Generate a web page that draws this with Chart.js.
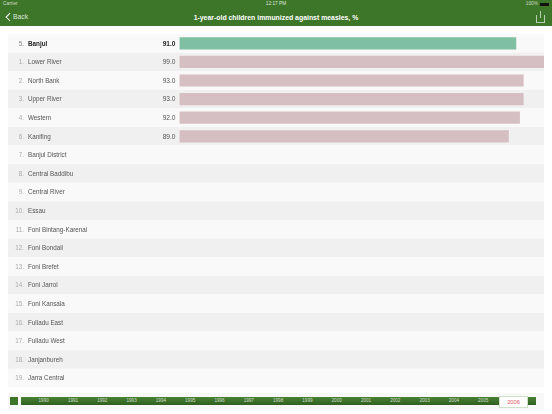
<!DOCTYPE html>
<html>
<head>
<meta charset="utf-8">
<script src="https://cdn.jsdelivr.net/npm/chart.js@4"></script>
<style>
    html, body { margin: 0; padding: 0; background: #fff; }
    body { width: 552px; height: 414px; position: relative; overflow: hidden; font-family: "Liberation Sans", sans-serif; }
    #chart { position: absolute; left: 0; top: 0; }
    #header { position: absolute; left: 0; top: 0; width: 552px; height: 25.5px; background: #3d7529; color: #fff; }
    #header span { position: absolute; white-space: nowrap; }
    #carrier { left: 3px; top: 1px; font-size: 4.8px; color: #cfdcc8; }
    #clock { left: 0; width: 552px; text-align: center; top: 1px; font-size: 4.8px; color: #dfe8da; }
    #battery { right: 14px; top: 1px; font-size: 4.8px; color: #cfdcc8; }
    #battery-bar { position: absolute; left: 540px; top: 2.5px; width: 9px; height: 3px; background: #111; }
    #back { left: 13px; top: 13.4px; font-size: 6.8px; color: #dfe8da; }
    #chevron { position: absolute; left: 6.5px; top: 14.3px; width: 4.5px; height: 4.5px; border-left: 1.2px solid #fff; border-bottom: 1.2px solid #fff; transform: rotate(45deg); }
    #title { left: 0; width: 552px; text-align: center; top: 13.6px; font-size: 6.9px; font-weight: bold; }
    #share { position: absolute; left: 536px; top: 15px; width: 7px; height: 6.5px; border: 0.7px solid #b9cdb0; border-top: none; }
    #share-stem { position: absolute; left: 539.6px; top: 11px; width: 0.7px; height: 7px; background: #b9cdb0; }
    #timeline { position: absolute; left: 8px; top: 393px; width: 536px; height: 17px; background: #f9f8f8; }
    #play { position: absolute; left: 10px; top: 397px; width: 8px; height: 8px; background: #3d7529; }
    #band { position: absolute; left: 21px; top: 397.3px; width: 515px; height: 7.7px; background: linear-gradient(#4a8234, #2f5f20); }
    .year { position: absolute; top: 398px; width: 28px; margin-left: -14px; text-align: center; font-size: 4.6px; line-height: 6px; color: #cfdcc8; }
    #selected { position: absolute; left: 499px; top: 396px; width: 27px; height: 10px; background: #fff; border: 0.7px solid #cfe0c8; text-align: center; font-size: 5.7px; line-height: 10.5px; color: #d9535f; }
</style>
</head>
<body>
<canvas id="chart" width="552" height="414"></canvas>
<div id="header">
    <span id="carrier">Carrier</span>
    <span id="clock">12:17 PM</span>
    <span id="battery">100%</span>
    <div id="battery-bar"></div>
    <div id="chevron"></div>
    <span id="back">Back</span>
    <span id="title">1-year-old children immunized against measles, %</span>
    <div id="share"></div>
    <div id="share-stem"></div>
</div>
<div id="timeline"></div>
<div id="play"></div>
<div id="band"></div>
<div id="selected">2006</div>
<script>
const ranks = [5, 1, 2, 3, 4, 6, 7, 8, 9, 10, 11, 12, 13, 14, 15, 16, 17, 18, 19];
const regions = ['Banjul', 'Lower River', 'North Bank', 'Upper River', 'Western', 'Kanifing', 'Banjul District',
    'Central Baddibu', 'Central River', 'Essau', 'Foni Bintang-Karenai', 'Foni Bondali', 'Foni Brefet', 'Foni Jarrol',
    'Foni Kansala', 'Fulladu East', 'Fulladu West', 'Janjanbureh', 'Jarra Central'];
const coverage = [91, 99, 93, 93, 92, 89, null, null, null, null, null, null, null, null, null, null, null, null, null];
const years = [1990, 1991, 1992, 1993, 1994, 1995, 1996, 1997, 1998, 1999, 2000, 2001, 2002, 2003, 2004, 2005];

const FONT = '"Liberation Sans", sans-serif';

// Year labels on the timeline strip
years.forEach((year, i) => {
    const label = document.createElement('div');
    label.className = 'year';
    label.textContent = year;
    label.style.left = (43.7 + i * 29.3) + 'px';
    document.body.appendChild(label);
});

// Striped rows go behind the bars, labels on top of them
const rowPlugin = {
    id: 'rows',
    beforeDatasetsDraw(chart) {
        const { ctx, scales: { y } } = chart;
        const rowHeight = y.getPixelForValue(1) - y.getPixelForValue(0);
        regions.forEach((name, i) => {
            ctx.fillStyle = i % 2 === 0 ? '#f9f9f9' : '#f0f0f0';
            ctx.fillRect(8, y.getPixelForValue(i) - rowHeight / 2, 536, rowHeight);
        });
    },
    afterDatasetsDraw(chart) {
        const { ctx, scales: { y } } = chart;
        ctx.save();
        ctx.textBaseline = 'middle';
        regions.forEach((name, i) => {
            const py = y.getPixelForValue(i) + 0.5;
            const selected = i === 0;
            ctx.textAlign = 'right';
            ctx.font = '6.3px ' + FONT;
            ctx.fillStyle = selected ? '#888' : '#aaa';
            ctx.fillText(ranks[i] + '.', 24, py);
            ctx.textAlign = 'left';
            ctx.font = (selected ? 'bold ' : '') + '6.3px ' + FONT;
            ctx.fillStyle = selected ? '#222' : '#555';
            ctx.fillText(name, 28, py);
            if (coverage[i] !== null) {
                ctx.textAlign = 'right';
                ctx.font = (selected ? 'bold ' : '') + '6.6px ' + FONT;
                ctx.fillText(coverage[i].toFixed(1), 175.5, py);
            }
        });
        ctx.restore();
    }
};

new Chart(document.getElementById('chart'), {
    type: 'bar',
    data: {
        labels: regions,
        datasets: [{
            data: coverage,
            backgroundColor: coverage.map((v, i) => i === 0 ? '#7fbfa4' : '#d6bfc2'),
            barThickness: 11.5,
            borderWidth: 0
        }]
    },
    options: {
        indexAxis: 'y',
        responsive: false,
        animation: false,
        layout: { padding: { left: 179.5, right: 8, top: 34, bottom: 26.6 } },
        scales: {
            x: { display: false, min: 0, max: 98.6 },
            y: { display: false }
        },
        plugins: { legend: { display: false }, tooltip: { enabled: false } }
    },
    plugins: [rowPlugin]
});
</script>
</body>
</html>
